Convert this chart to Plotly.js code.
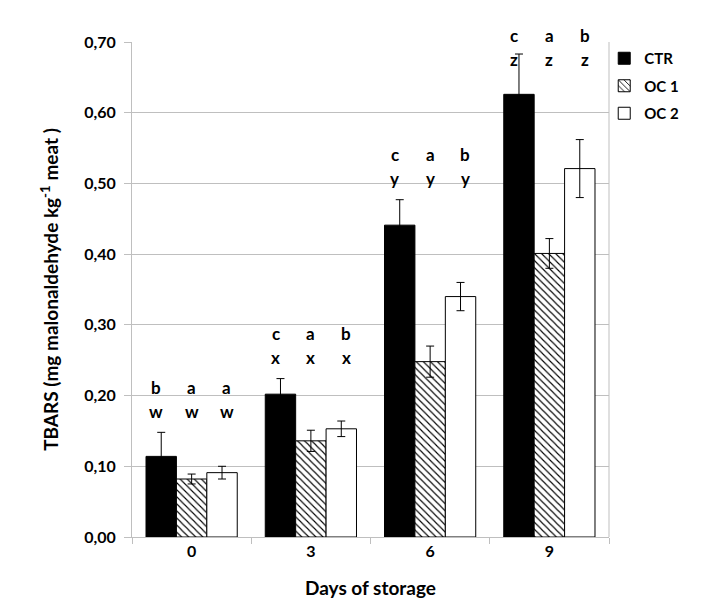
<!DOCTYPE html>
<html>
<head>
<meta charset="utf-8">
<script src="https://cdn.plot.ly/plotly-3.0.1.min.js"></script>
<style>html,body{margin:0;padding:0;background:#fff;}</style>
</head>
<body>
<div id="chart" style="width:720px;height:610px;"></div>
<script>
const days = ["0", "3", "6", "9"];
const seriesNames = ["CTR", "OC 1", "OC 2"];
const ctr = [0.114, 0.202, 0.441, 0.626];
const ctrErr = [0.034, 0.022, 0.036, 0.057];
const oc1 = [0.082, 0.136, 0.248, 0.401];
const oc1Err = [0.007, 0.015, 0.022, 0.021];
const oc2 = [0.091, 0.153, 0.340, 0.521];
const oc2Err = [0.009, 0.011, 0.020, 0.041];
const lettersTreatment = [["b","a","a"],["c","a","b"],["c","a","b"],["c","a","b"]];
const lettersDay = [["w","w","w"],["x","x","x"],["y","y","y"],["z","z","z"]];

const FONT = "Lato, 'Open Sans', sans-serif";
const gridCol = "#bfbfbf";

const values = [ctr, oc1, oc2];
const errs = [ctrErr, oc1Err, oc2Err];

const errStyle = (arr) => ({type: "data", array: arr, visible: true, color: "#000", thickness: 1, width: 4});

const traces = [
  {type: "bar", name: seriesNames[0], legendgroup: "g1", x: days, y: ctr, error_y: errStyle(ctrErr),
   marker: {color: "#000", line: {color: "#000", width: 1}}},
  {type: "bar", name: seriesNames[1], legendgroup: "g2", x: days, y: oc1, error_y: errStyle(oc1Err),
   marker: {color: "#fff", line: {color: "#000", width: 1},
            pattern: {shape: "\\", fgcolor: "#000", bgcolor: "#fff", size: 5, solidity: 0.22}}},
  {type: "bar", name: seriesNames[2], legendgroup: "g3", x: days, y: oc2, error_y: errStyle(oc2Err),
   marker: {color: "#fff", line: {color: "#000", width: 1}}}
];

const bargap = 0.235;
const letterSpacing = 0.295;
const annotations = [];
days.forEach((d, i) => {
  let top = 0;
  for (let k = 0; k < 3; k++) top = Math.max(top, values[k][i] + errs[k][i]);
  const lowY = Math.min(top + 0.03, 0.675);
  for (let k = 0; k < 3; k++) {
    const xpos = i + (k - 1) * letterSpacing;
    annotations.push({x: xpos, y: lowY, xref: "x", yref: "y", yshift: 24, text: lettersTreatment[i][k],
      showarrow: false, font: {family: FONT, size: 17, color: "#000", weight: "bold"}});
    annotations.push({x: xpos, y: lowY, xref: "x", yref: "y", text: lettersDay[i][k],
      showarrow: false, font: {family: FONT, size: 17, color: "#000", weight: "bold"}});
  }
});

const layout = {
  width: 720, height: 610,
  margin: {l: 132, r: 111, t: 42, b: 73},
  paper_bgcolor: "#fff", plot_bgcolor: "#fff",
  separators: ",.",
  barmode: "group",
  bargap: bargap,
  bargroupgap: 0,
  font: {family: FONT, color: "#000"},
  showlegend: true,
  legend: {x: 0.99, y: 1.0, xanchor: "left", yanchor: "top",
           font: {family: FONT, size: 15, weight: "bold", color: "#000"},
           itemwidth: 30, tracegroupgap: 5, bgcolor: "rgba(0,0,0,0)"},
  xaxis: {
    type: "category",
    showgrid: false,
    showline: true, linecolor: gridCol, linewidth: 1, mirror: false,
    ticks: "outside", tickson: "boundaries", ticklen: 6, tickcolor: gridCol,
    tickfont: {family: FONT, size: 16, weight: "bold", color: "#000"},
    title: {text: "Days of storage", font: {family: FONT, size: 19, weight: "bold", color: "#000"}, standoff: 22},
    zeroline: false
  },
  yaxis: {
    range: [0, 0.70], dtick: 0.1, tickformat: ".2f",
    showgrid: true, gridcolor: gridCol, gridwidth: 1,
    showline: true, linecolor: gridCol, linewidth: 1, mirror: false,
    ticks: "outside", ticklen: 7, tickcolor: gridCol, ticklabelstandoff: 5,
    tickfont: {family: FONT, size: 16, weight: "bold", color: "#000"},
    title: {text: "TBARS (mg malonaldehyde kg<sup>-1</sup> meat )", font: {family: FONT, size: 19, weight: "bold", color: "#000"}, standoff: 20},
    zeroline: false
  },
  annotations: annotations,
  shapes: [
    {type: "line", xref: "paper", yref: "paper", x0: 1, x1: 1, y0: 0, y1: 1, line: {color: gridCol, width: 1}}
  ]
};

Plotly.newPlot("chart", traces, layout, {displayModeBar: false, staticPlot: true});
</script>
</body>
</html>
